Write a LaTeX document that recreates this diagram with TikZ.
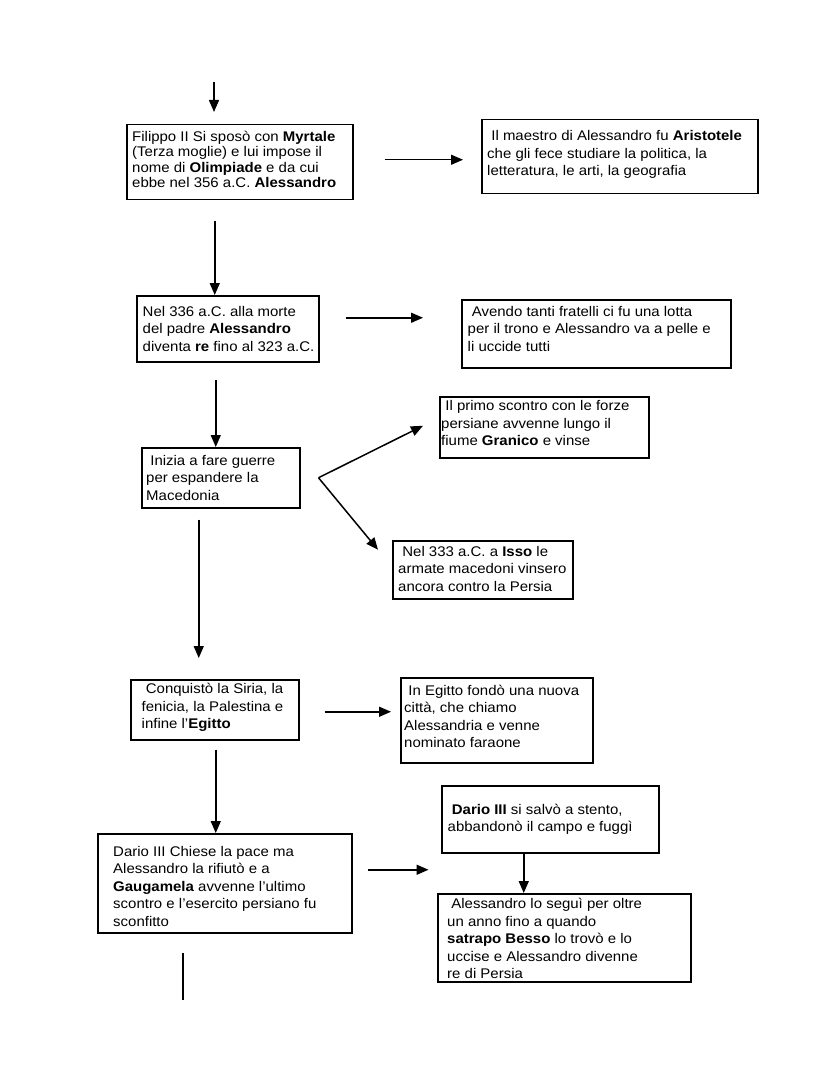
\documentclass[tikz,border=0pt]{standalone}
\usepackage{fontspec}
\setmainfont[FakeStretch=1.07]{Liberation Sans}
\usepackage{tikz}
\usetikzlibrary{arrows.meta}

\tikzset{
  frame/.style={draw, line width=1.5pt, anchor=north west, inner sep=0pt},
  txt/.style={anchor=west, align=left, inner sep=0pt, font=\fontsize{14}{17.5}\selectfont},
  arr/.style={line width=1.5pt, -{Triangle[length=12pt,width=10pt]}},
}

\begin{document}
\begin{tikzpicture}[x=1pt, y=-1pt]
  \useasboundingbox (0,0) rectangle (828,1083);

  % boxes
  \node[frame, minimum width=226pt, minimum height=75pt] (A) at (126,124) {};
  \node[frame, minimum width=276pt, minimum height=74pt] (B) at (481,119) {};
  \node[frame, minimum width=182pt, minimum height=66pt] (C) at (136,295) {};
  \node[frame, minimum width=269pt, minimum height=68pt] (D) at (461,299) {};
  \node[frame, minimum width=158pt, minimum height=60pt] (E) at (141,447) {};
  \node[frame, minimum width=209pt, minimum height=61pt] (F) at (439,396) {};
  \node[frame, minimum width=180pt, minimum height=58pt] (G) at (392,540) {};
  \node[frame, minimum width=168pt, minimum height=60pt] (H) at (130,679) {};
  \node[frame, minimum width=192pt, minimum height=85pt] (I) at (400,677) {};
  \node[frame, minimum width=254pt, minimum height=99pt] (J) at (97,833) {};
  \node[frame, minimum width=217pt, minimum height=67pt] (K) at (441,785) {};
  \node[frame, minimum width=253pt, minimum height=88pt] (L) at (437,893) {};

  % texts
  \node[txt, font=\fontsize{14}{15.5}\selectfont] (At) at ([shift={(6,-3)}]A.west)
    {Filippo II Si sposò con \textbf{Myrtale}\\(Terza moglie) e lui impose il\\nome di \textbf{Olimpiade} e da cui\\ebbe nel 356 a.C. \textbf{Alessandro}};
  \node[txt] (Bt) at ([shift={(6,-2)}]B.west)
    {\ Il maestro di Alessandro fu \textbf{Aristotele}\\che gli fece studiare la politica, la\\letteratura, le arti, la geografia};
  \node[txt] (Ct) at ([shift={(6.5,0)}]C.west)
    {Nel 336 a.C. alla morte\\del padre \textbf{Alessandro}\\diventa \textbf{re} fino al 323 a.C.};
  \node[txt] (Dt) at ([shift={(6.5,-5)}]D.west)
    {\ Avendo tanti fratelli ci fu una lotta\\per il trono e Alessandro va a pelle e\\li uccide tutti};
  \node[txt] (Et) at ([shift={(5,0)}]E.west)
    {\ Inizia a fare guerre\\per espandere la\\Macedonia};
  \node[txt] (Ft) at ([shift={(2,-4)}]F.west)
    {\ Il primo scontro con le forze\\persiane avvenne lungo il\\fiume \textbf{Granico} e vinse};
  \node[txt] (Gt) at ([shift={(6,-1)}]G.west)
    {\ Nel 333 a.C. a \textbf{Isso} le\\armate macedoni vinsero\\ancora contro la Persia};
  \node[txt] (Ht) at ([shift={(11.5,-2)}]H.west)
    {\ Conquistò la Siria, la\\fenicia, la Palestina e\\infine l'\textbf{Egitto}};
  \node[txt] (It) at ([shift={(4,-4)}]I.west)
    {\ In Egitto fondò una nuova\\città, che chiamo\\Alessandria e venne\\nominato faraone};
  \node[txt] (Jt) at ([shift={(16,3)}]J.west)
    {Dario III Chiese la pace ma\\Alessandro la rifiutò e a\\\textbf{Gaugamela} avvenne l’ultimo\\scontro e l’esercito persiano fu\\sconfitto};
  \node[txt] (Kt) at ([shift={(6.5,0)}]K.west)
    {\ \textbf{Dario III} si salvò a stento,\\abbandonò il campo e fuggì};
  \node[txt] (Lt) at ([shift={(10,1)}]L.west)
    {\ Alessandro lo seguì per oltre\\un anno fino a quando\\\textbf{satrapo Besso} lo trovò e lo\\uccise e Alessandro divenne\\re di Persia};

  % arrows
  \coordinate (start) at (214,82);
  \draw[arr] (start) -- ++(0,30);
  \draw[arr] ([shift={(31,-2.5)}]A.east) -- ([shift={(-18,3)}]B.west);
  \draw[arr] ([shift={(-25,21)}]A.south) -- ([shift={(-25,0)}]C.north -| A.south);
  \draw[arr] ([shift={(26,-11)}]C.east) -- ([shift={(-38,-16)}]D.west);
  \draw[arr] ([shift={(-12,17)}]C.south) -- ([shift={(-5,0)}]E.north);

  \coordinate (fork) at ([shift={(18,0)}]E.east);
  \draw[arr] (fork) -- ([shift={(-16,-1.5)}]F.west);
  \draw[arr] (fork) -- ([shift={(-14,-20)}]G.west);

  \draw[arr] ([shift={(-22,11)}]E.south) -- ([shift={(-16,-21)}]H.north);
  \draw[arr] ([shift={(25,2)}]H.east) -- ([shift={(-9,-8.5)}]I.west);
  \draw[arr] ([shift={(1,9)}]H.south) -- ([shift={(-9,0)}]J.north);

  \coordinate (jkstart) at ([shift={(15,-13.5)}]J.east);
  \draw[arr] (jkstart) -- ++(61,0);
  \draw[arr] ([shift={(-26.5,0)}]K.south) -- ([shift={(-40.5,0)}]L.north);

  \coordinate (tail) at (183,953);
  \draw[line width=1.5pt] (tail) -- ++(0,47);
\end{tikzpicture}
\end{document}
